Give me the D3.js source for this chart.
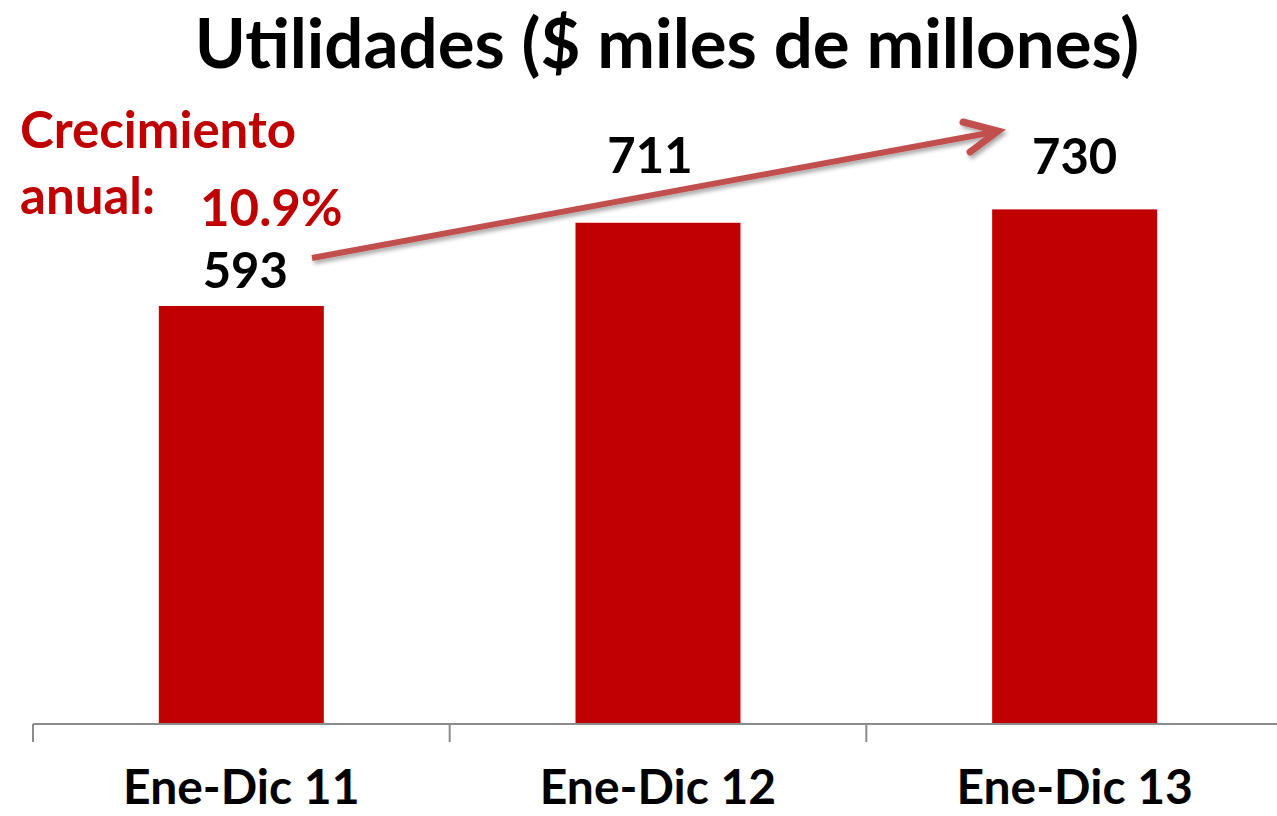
<!DOCTYPE html>
<html>
<head>
<meta charset="utf-8">
<script src="https://cdn.jsdelivr.net/npm/d3@7"></script>
<style>
  body { margin: 0; background: #fff; }
  text { font-family: Lato, "Open Sans", sans-serif; font-weight: bold; }
</style>
</head>
<body>
<div class="chart"></div>
<script>
var categories = ["Ene-Dic 11", "Ene-Dic 12", "Ene-Dic 13"];
var values = [593, 711, 730];
var growthLabel = "10.9%";

var svgWidth = 1277;
var svgHeight = 816;

var svg = d3.select(".chart")
  .append("svg")
  .attr("width", svgWidth)
  .attr("height", svgHeight);

var baseY = 724;

var x = d3.scaleBand()
  .domain(categories)
  .range([33, 1283])
  .paddingInner(0.604)
  .paddingOuter(0.302);

var y = d3.scaleLinear()
  .domain([0, 1027])
  .range([baseY, 0]);

// shadow for the arrow
var defs = svg.append("defs");
var f = defs.append("filter").attr("id", "shadow").attr("x", "-10%").attr("y", "-50%").attr("width", "120%").attr("height", "200%");
f.append("feDropShadow").attr("dx", 2).attr("dy", 3).attr("stdDeviation", 2).attr("flood-color", "#000").attr("flood-opacity", 0.35);

// title
svg.append("text")
  .attr("x", 667)
  .attr("y", 68)
  .attr("text-anchor", "middle")
  .attr("font-size", "69px")
  .attr("fill", "#000")
  .text("Utilidades ($ miles de millones)");

// bars
svg.selectAll("rect.bar")
  .data(values)
  .enter()
  .append("rect")
  .attr("class", "bar")
  .attr("x", (d, i) => x(categories[i]))
  .attr("y", d => y(d))
  .attr("width", x.bandwidth())
  .attr("height", d => baseY - y(d))
  .attr("fill", "#C00000");

// value labels (the first one sits just above its bar, the others higher up)
var labelDx = [4, -8, 0];
var labelGap = [18, 50, 35];
svg.selectAll("text.val")
  .data(values)
  .enter()
  .append("text")
  .attr("class", "val")
  .attr("x", (d, i) => x(categories[i]) + x.bandwidth() / 2 + labelDx[i])
  .attr("y", (d, i) => y(d) - labelGap[i])
  .attr("text-anchor", "middle")
  .attr("font-size", "49px")
  .attr("fill", "#000")
  .text(d => d);

// x axis
var axis = svg.append("g");
axis.append("line")
  .attr("x1", 33).attr("x2", svgWidth)
  .attr("y1", baseY).attr("y2", baseY)
  .attr("stroke", "#8c8c8c").attr("stroke-width", 2);
var step = x.step();
var tickXs = d3.range(categories.length + 1).map(i => 33 + i * step);
axis.selectAll("line.tick")
  .data(tickXs)
  .enter()
  .append("line")
  .attr("class", "tick")
  .attr("x1", d => d).attr("x2", d => d)
  .attr("y1", baseY).attr("y2", baseY + 18)
  .attr("stroke", "#8c8c8c").attr("stroke-width", 2);

axis.selectAll("text.cat")
  .data(categories)
  .enter()
  .append("text")
  .attr("class", "cat")
  .attr("x", d => x(d) + x.bandwidth() / 2)
  .attr("y", 804)
  .attr("text-anchor", "middle")
  .attr("font-size", "48px")
  .attr("fill", "#000")
  .text(d => d);

// growth annotation
svg.append("text")
  .attr("x", 20).attr("y", 148)
  .attr("font-size", "51px")
  .attr("fill", "#C00000")
  .text("Crecimiento");
svg.append("text")
  .attr("x", 20).attr("y", 214)
  .attr("font-size", "51px")
  .attr("fill", "#C00000")
  .text("anual:");
svg.append("text")
  .attr("x", 200).attr("y", 226)
  .attr("font-size", "51px")
  .attr("fill", "#C00000")
  .text(growthLabel);

// arrow from first to last value
var arrow = svg.append("g").attr("filter", "url(#shadow)");
var x0 = 312, y0 = 258, x1 = 998, y1 = 131;
arrow.append("line")
  .attr("x1", x0).attr("y1", y0).attr("x2", x1 - 4).attr("y2", y1 + 1)
  .attr("stroke", "#C0504D").attr("stroke-width", 6);
arrow.append("path")
  .attr("d", `M${x1 - 35},${y1 - 9} L${x1},${y1} L${x1 - 28},${y1 + 21}`)
  .attr("fill", "none")
  .attr("stroke", "#C0504D").attr("stroke-width", 7)
  .attr("stroke-linecap", "round").attr("stroke-linejoin", "miter");
</script>
</body>
</html>
